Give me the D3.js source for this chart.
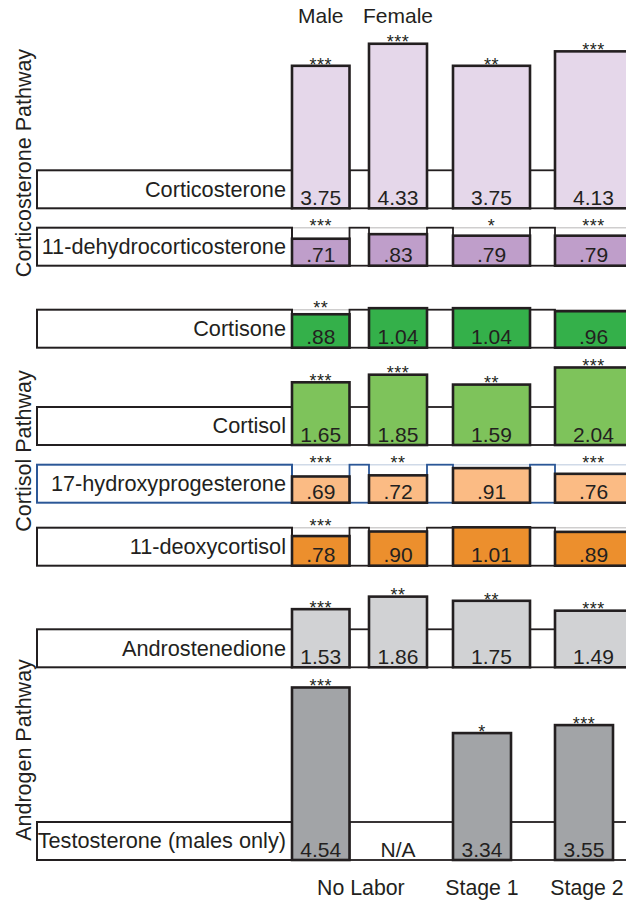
<!DOCTYPE html>
<html>
<head>
<meta charset="utf-8">
<script src="https://cdn.jsdelivr.net/npm/d3@7"></script>
<style>
  body { margin: 0; background: #fff; }
  svg { display: block; }
  text { font-family: "Liberation Sans", Arial, Helvetica, sans-serif; fill: #231f20; }
</style>
</head>
<body>
<svg id="chart" width="626" height="900"></svg>
<script>
// ---- data: fold change vs. reference (box = 1.0) ----
const columns = ["Male", "Female", "Stage 1", "Stage 2"];
const groupLabels = ["No Labor", "Stage 1", "Stage 2"];
const hormones = [
  "Corticosterone",
  "11-dehydrocorticosterone",
  "Cortisone",
  "Cortisol",
  "17-hydroxyprogesterone",
  "11-deoxycortisol",
  "Androstenedione",
  "Testosterone (males only)"
];
const corticosterone        = [3.75, 4.33, 3.75, 4.13];
const dehydrocorticosterone = [0.71, 0.83, 0.79, 0.79];
const cortisone             = [0.88, 1.04, 1.04, 0.96];
const cortisol              = [1.65, 1.85, 1.59, 2.04];
const hydroxyprogesterone   = [0.69, 0.72, 0.91, 0.76];
const deoxycortisol         = [0.78, 0.90, 1.01, 0.89];
const androstenedione       = [1.53, 1.86, 1.75, 1.49];
const testosterone          = [4.54, null, 3.34, 3.55];

const starsCorticosterone = ["***", "***", "**", "***"];
const starsDehydro        = ["***", "", "*", "***"];
const starsCortisone      = ["**", "", "", ""];
const starsCortisol       = ["***", "***", "**", "***"];
const starsHydroxyprog    = ["***", "**", "", "***"];
const starsDeoxycortisol  = ["***", "", "", ""];
const starsAndrostene     = ["***", "**", "**", "***"];
const starsTestosterone   = ["***", "", "*", "***"];

const pathways = ["Corticosterone Pathway", "Cortisol Pathway", "Androgen Pathway"];

const rowValues = [corticosterone, dehydrocorticosterone, cortisone, cortisol,
                   hydroxyprogesterone, deoxycortisol, androstenedione, testosterone];
const rowStars = [starsCorticosterone, starsDehydro, starsCortisone, starsCortisol,
                  starsHydroxyprog, starsDeoxycortisol, starsAndrostene, starsTestosterone];

// ---- layout & style ----
const rowBottoms = [208.3, 265.7, 347.7, 445, 502.7, 565.7, 667.3, 860];
const rowFills = ["#e5d7ea", "#bf9eca", "#34b04a", "#7ec35b",
                  "#fbbb84", "#ec8f2d", "#d1d2d4", "#a2a4a7"];
const rowStrokes = ["#231f20", "#231f20", "#231f20", "#231f20",
                    "#2b5797", "#231f20", "#231f20", "#231f20"];
const narrowRows = ["Testosterone (males only)"];
const pathwayCenters = [163, 451, 750];
const boxLeft = 37, boxRight = 700;
const ink = "#231f20";

const svg = d3.select("#chart");

// one unit (fold change 1.0) = height of the reference box
const unit = d3.scaleLinear().domain([0, 1]).range([0, 38]);
const xLeft = d3.scaleOrdinal().domain(columns).range([292, 369, 453, 555]);
const xWide = d3.scaleOrdinal().domain(columns).range([57.5, 58, 77, 77]);
const xNarrow = d3.scaleOrdinal().domain(columns).range([57.5, 58, 58, 58]);
const yBottom = d3.scaleOrdinal().domain(hormones).range(rowBottoms);
const fill = d3.scaleOrdinal().domain(hormones).range(rowFills);
const edge = d3.scaleOrdinal().domain(hormones).range(rowStrokes);

const fmt = v => d3.format(".2f")(v).replace(/^0\./, ".");

hormones.forEach((h, ri) => {
  const g = svg.append("g").attr("class", "row");
  const bottom = yBottom(h);
  const top = bottom - unit(1);
  const widthOf = narrowRows.includes(h) ? xNarrow : xWide;
  const cells = columns.map((c, i) => ({
    c, v: rowValues[ri][i], s: rowStars[ri][i],
    x0: xLeft(c), x1: xLeft(c) + widthOf(c)
  }));
  const bars = cells.filter(d => d.v != null);

  // reference box, split into the pieces that sit between bars
  const segs = [];
  let cursor = boxLeft;
  bars.forEach(b => { segs.push([cursor, b.x0]); cursor = b.x1; });
  segs.push([cursor, boxRight]);
  g.selectAll("rect.seg").data(segs).join("rect")
    .attr("class", "seg")
    .attr("x", d => d[0]).attr("y", top)
    .attr("width", d => d[1] - d[0]).attr("height", unit(1))
    .attr("fill", "#fff").attr("stroke", edge(h))
    .attr("stroke-width", (d, i) => i === 0 ? 2 : 1.8);

  // faint reference line over short bars
  g.selectAll("line.ref").data(bars.filter(d => d.v < 1)).join("line")
    .attr("class", "ref")
    .attr("x1", d => d.x0).attr("x2", d => d.x1)
    .attr("y1", top).attr("y2", top)
    .attr("stroke", edge(h)).attr("stroke-opacity", 0.22).attr("stroke-width", 1.5);

  // bars
  g.selectAll("rect.bar").data(bars).join("rect")
    .attr("class", "bar")
    .attr("x", d => d.x0).attr("y", d => bottom - unit(d.v))
    .attr("width", d => d.x1 - d.x0).attr("height", d => unit(d.v))
    .attr("fill", fill(h)).attr("stroke", ink).attr("stroke-width", 2.6);

  // value labels
  g.selectAll("text.val").data(cells).join("text")
    .attr("class", "val")
    .attr("x", d => (d.x0 + d.x1) / 2).attr("y", bottom - 3.5)
    .attr("text-anchor", "middle").attr("font-size", 21)
    .text(d => d.v == null ? "N/A" : fmt(d.v));

  // significance stars, above the bar or the box, whichever is higher
  g.selectAll("text.star").data(bars.filter(d => d.s)).join("text")
    .attr("class", "star")
    .attr("x", d => (d.x0 + d.x1) / 2)
    .attr("y", d => bottom - unit(Math.max(1, d.v)) + 4.7)
    .attr("text-anchor", "middle").attr("font-size", 18)
    .attr("letter-spacing", 0.5)
    .text(d => d.s);

  // hormone name inside the box
  g.append("text")
    .attr("x", xLeft(columns[0]) - 6).attr("y", (top + bottom) / 2 + 7.4)
    .attr("text-anchor", "end").attr("font-size", 21.7)
    .text(h);
});

// pathway titles
svg.selectAll("text.pathway").data(pathways).join("text")
  .attr("class", "pathway")
  .attr("transform", (d, i) => `translate(31,${pathwayCenters[i]}) rotate(-90)`)
  .attr("text-anchor", "middle").attr("font-size", 21.5)
  .text(d => d);

// column headers (No Labor split by sex)
const center = c => xLeft(c) + xNarrow(c) / 2;
svg.selectAll("text.head").data(columns.slice(0, 2)).join("text")
  .attr("class", "head")
  .attr("x", d => center(d)).attr("y", 23)
  .attr("text-anchor", "middle").attr("font-size", 21)
  .text(d => d);

// group labels along the bottom
const groupX = [(center("Male") + center("Female")) / 2 + 1.5, center("Stage 1"), center("Stage 2") + 3];
svg.selectAll("text.group").data(groupLabels).join("text")
  .attr("class", "group")
  .attr("x", (d, i) => groupX[i]).attr("y", 895)
  .attr("text-anchor", "middle").attr("font-size", 21.3)
  .text(d => d);
</script>
</body>
</html>
